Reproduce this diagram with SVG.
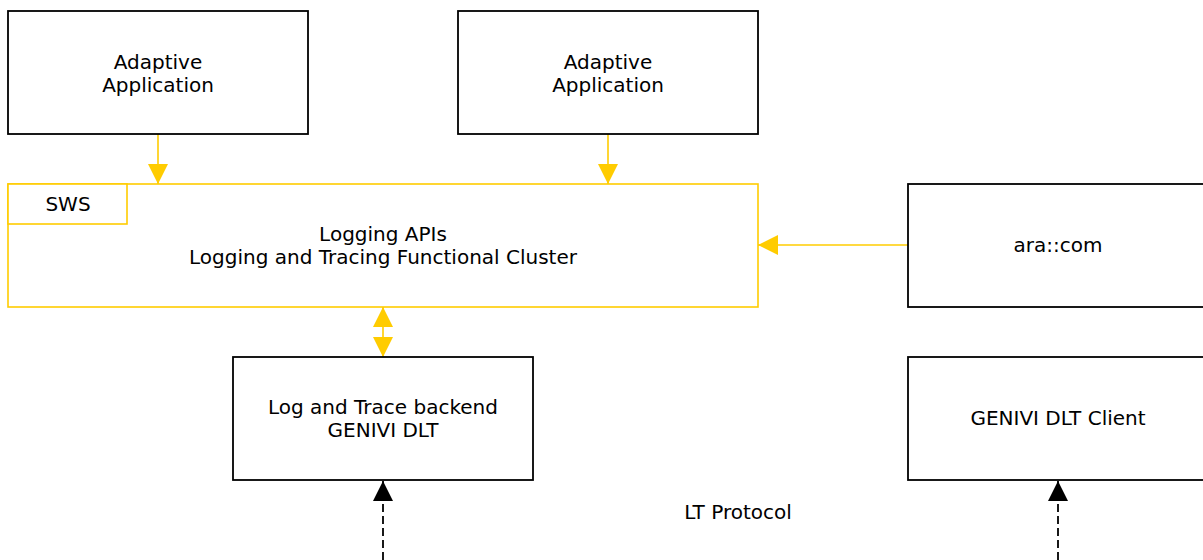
<svg xmlns="http://www.w3.org/2000/svg" width="1203" height="560" viewBox="0 0 1203 560">
<style>
.box{fill:#fff;stroke:#000;stroke-width:1.8}
.ybox{fill:#fff;stroke:#FFCC00;stroke-width:1.6}
.t{font-family:"DejaVu Sans",sans-serif;font-size:20px;fill:#000;text-anchor:middle}
.yl{stroke:#FFCC00;stroke-width:1.6;fill:none}
.bl{stroke:#000;stroke-width:1.8;fill:none;stroke-dasharray:8 4}
</style>
<defs>
<marker id="ya" viewBox="0 0 20 20" refX="20" refY="10" markerWidth="20" markerHeight="20" markerUnits="userSpaceOnUse" orient="auto-start-reverse"><path d="M0,0 L20,10 L0,20 Z" fill="#FFCC00"/></marker>
<marker id="ba" viewBox="0 0 20 20" refX="20" refY="10" markerWidth="20" markerHeight="20" markerUnits="userSpaceOnUse" orient="auto"><path d="M0,0 L20,10 L0,20 Z" fill="#000"/></marker>
</defs>
<rect width="1203" height="560" fill="#fff"/>
<g id="connectors">
<path class="yl" d="M158,134 L158,184" marker-end="url(#ya)"/>
<path class="yl" d="M608,134 L608,184" marker-end="url(#ya)"/>
<path class="yl" d="M908,245 L758,245" marker-end="url(#ya)"/>
<path class="yl" d="M383,307 L383,357" marker-start="url(#ya)" marker-end="url(#ya)"/>
<path class="bl" d="M383,560 L383,481" marker-end="url(#ba)"/>
<path class="bl" d="M1058,560 L1058,481" marker-end="url(#ba)"/>
</g>
<g id="app1">
<rect class="box" x="8" y="11" width="300" height="123"/>
<text class="t" x="158" y="69">Adaptive</text>
<text class="t" x="158" y="92">Application</text>
</g>
<g id="app2">
<rect class="box" x="458" y="11" width="300" height="123"/>
<text class="t" x="608" y="69">Adaptive</text>
<text class="t" x="608" y="92">Application</text>
</g>
<g id="cluster">
<rect class="ybox" x="8" y="184" width="750" height="123"/>
<rect class="ybox" x="8" y="184" width="119" height="40"/>
<text class="t" x="68" y="211">SWS</text>
<text class="t" x="383" y="241">Logging APIs</text>
<text class="t" x="383" y="264">Logging and Tracing Functional Cluster</text>
</g>
<g id="aracom">
<rect class="box" x="908" y="184" width="300" height="123"/>
<text class="t" x="1058" y="252">ara::com</text>
</g>
<g id="backend">
<rect class="box" x="233" y="357" width="300" height="123"/>
<text class="t" x="383" y="414">Log and Trace backend</text>
<text class="t" x="383" y="437">GENIVI DLT</text>
</g>
<g id="client">
<rect class="box" x="908" y="357" width="300" height="123"/>
<text class="t" x="1058" y="425">GENIVI DLT Client</text>
</g>
<g id="label">
<text class="t" x="738" y="519">LT Protocol</text>
</g>
</svg>
